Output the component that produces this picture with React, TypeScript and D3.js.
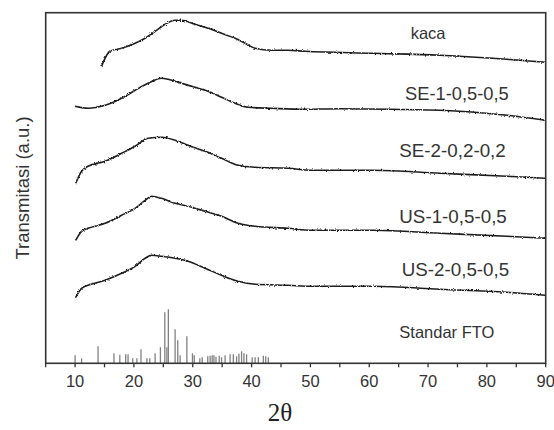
import React from "react";
import * as d3 from "d3";

// ---- data (2θ in degrees, transmission in arbitrary units) ----
const kaca: [number, number][] = [
  [14.5, 297], [15.9, 312], [17.9, 315], [20.2, 320], [21.9, 325], [23.6, 332],
  [25.3, 339], [27.0, 343], [28.1, 343], [30.4, 339], [32.6, 335], [34.9, 330],
  [37.2, 325], [38.9, 320], [40.6, 315], [43.4, 313], [46.2, 313], [49.1, 312],
  [60.6, 310], [72.0, 308], [83.4, 304], [89.9, 301],
];
const se1: [number, number][] = [
  [10.0, 257], [12.2, 255], [15.1, 258], [17.9, 265], [20.2, 273], [22.4, 280],
  [24.7, 285], [25.8, 284], [28.1, 280], [30.4, 276], [32.6, 272], [34.9, 266],
  [37.2, 260], [39.4, 256], [43.4, 255], [49.1, 254], [55.0, 254.5], [72.0, 253],
  [83.4, 248], [89.9, 243],
];
const se2: [number, number][] = [
  [10.1, 180], [11.1, 192], [12.2, 197], [15.1, 202], [17.9, 210], [20.2, 217],
  [22.4, 225], [24.7, 226], [27.0, 223], [29.2, 218], [32.1, 212], [34.9, 205],
  [37.7, 198], [40.6, 196], [46.2, 195], [50.2, 193], [60.7, 193], [72.0, 190],
  [83.4, 187], [89.9, 185],
];
const us1: [number, number][] = [
  [10.1, 123], [11.1, 132], [12.2, 135], [15.1, 140], [17.9, 148], [20.2, 155],
  [21.9, 163], [23.0, 167], [24.7, 165], [27.0, 160], [29.2, 157], [32.1, 152],
  [34.9, 147], [37.7, 140], [40.6, 137], [46.2, 135], [50.2, 133], [60.7, 133],
  [72.0, 130], [83.4, 127], [89.9, 125],
];
const us2: [number, number][] = [
  [10.1, 66], [11.1, 75], [12.2, 78], [15.1, 83], [17.9, 90], [20.2, 97],
  [21.9, 105], [23.0, 108], [24.7, 107], [27.0, 105], [29.2, 102], [32.1, 95],
  [34.9, 88], [37.7, 82], [40.6, 79], [46.2, 78], [50.2, 77], [60.7, 77],
  [72.0, 74], [83.4, 71], [89.9, 68],
];
// reference stick pattern: [2θ, relative height]
const ftoSticks: [number, number][] = [
  [10.0, 8], [11.1, 5], [13.9, 17], [16.6, 10], [17.6, 8.5], [18.6, 9], [19.0, 9],
  [19.8, 5], [20.5, 5], [21.2, 14], [22.2, 5], [22.7, 5], [23.6, 10], [24.5, 16],
  [25.25, 51], [25.85, 54], [25.6, 16], [27.0, 34], [27.45, 23], [27.85, 8],
  [29.0, 27], [29.95, 10], [30.25, 8], [31.2, 5], [31.6, 6], [32.55, 7], [32.95, 7.5],
  [33.3, 8], [33.6, 8], [33.95, 6.5], [34.5, 7.5], [34.9, 6], [35.5, 8], [36.35, 9],
  [36.9, 9], [37.45, 7], [37.85, 9.5], [38.3, 12], [38.7, 10], [39.15, 9], [40.1, 6],
  [40.6, 6], [41.15, 6], [42.0, 7.5], [42.4, 7], [42.85, 6],
];
const seriesNames = ["kaca", "SE-1-0,5-0,5", "SE-2-0,2-0,2", "US-1-0,5-0,5", "US-2-0,5-0,5", "Standar FTO"];
const xTickValues = [10, 20, 30, 40, 50, 60, 70, 80, 90];
const xMinorTicks = [5, 15, 25, 35, 45, 55, 65, 75, 85];
const xDomain: [number, number] = [5, 90];
const yDomain: [number, number] = [0, 350.6];

// ---- layout ----
const W = 554, H = 430;
const M = { left: 45.7, right: 545.7, top: 12.7, bottom: 363.3 };
const labelPos = [
  { x: 410.7, y: 39, size: 16.5 },
  { x: 405, y: 100, size: 18.3 },
  { x: 399.3, y: 157, size: 18.8 },
  { x: 399.3, y: 223, size: 18.8 },
  { x: 401.7, y: 275.5, size: 18.8 },
  { x: 399.3, y: 338, size: 16.5 },
];

export default function App() {
  const x = d3.scaleLinear().domain(xDomain).range([M.left, M.right]);
  const y = d3.scaleLinear().domain(yDomain).range([M.bottom, M.top]);
  const line = d3
    .line<[number, number]>()
    .x((d) => x(d[0]))
    .y((d) => y(d[1]))
    .curve(d3.curveMonotoneX);
  const curves = [kaca, se1, se2, us1, us2];
  const font = "'Liberation Sans', Arial, sans-serif";
  const ink = "#1e1e1e";

  return (
    <svg
      width={W}
      height={H}
      style={{ position: "absolute", left: 0, top: 0, display: "block", background: "#fff" }}
    >
      <defs>
        <filter id="noise" x="-5%" y="-20%" width="110%" height="140%">
          <feTurbulence type="fractalNoise" baseFrequency="0.75" numOctaves="2" seed="5" result="t" />
          <feDisplacementMap in="SourceGraphic" in2="t" scale="2.6" xChannelSelector="R" yChannelSelector="G" />
        </filter>
      </defs>

      {/* sticks */}
      <g>
        {ftoSticks.map((d, i) => (
          <line
            key={i}
            x1={x(d[0])}
            x2={x(d[0])}
            y1={y(0)}
            y2={y(d[1])}
            stroke="#808080"
            strokeWidth={1.3}
          />
        ))}
      </g>

      {/* curves */}
      <g filter="url(#noise)">
        {curves.map((c, i) => (
          <path key={i} d={line(c) || ""} fill="none" stroke={ink} strokeWidth={1.6} />
        ))}
      </g>

      {/* frame */}
      <rect
        x={M.left}
        y={M.top}
        width={M.right - M.left}
        height={M.bottom - M.top}
        fill="none"
        stroke="#333"
        strokeWidth={1.6}
      />

      {/* x ticks */}
      {[...xTickValues, ...xMinorTicks].map((v) => (
        <line key={"t" + v} x1={x(v)} x2={x(v)} y1={M.bottom} y2={M.bottom + 4} stroke="#333" strokeWidth={1.3} />
      ))}
      {xTickValues.map((v) => (
        <text
          key={"l" + v}
          x={x(v)}
          y={387}
          textAnchor="middle"
          fontFamily={font}
          fontSize={16.5}
          fill="#333"
        >
          {v}
        </text>
      ))}

      {/* series labels */}
      {seriesNames.map((n, i) => (
        <text
          key={n}
          x={labelPos[i].x}
          y={labelPos[i].y}
          fontFamily={font}
          fontSize={labelPos[i].size}
          fill="#333"
        >
          {n}
        </text>
      ))}

      {/* axis titles */}
      <text
        transform={`translate(28.5, ${(M.top + M.bottom) / 2}) rotate(-90)`}
        textAnchor="middle"
        fontFamily={font}
        fontSize={18.5}
        fill="#333"
      >
        Transmitasi (a.u.)
      </text>
      <text
        x={280}
        y={421}
        textAnchor="middle"
        fontFamily="'Liberation Serif', 'Times New Roman', serif"
        fontSize={25}
        fill="#222"
      >
        2θ
      </text>
    </svg>
  );
}
